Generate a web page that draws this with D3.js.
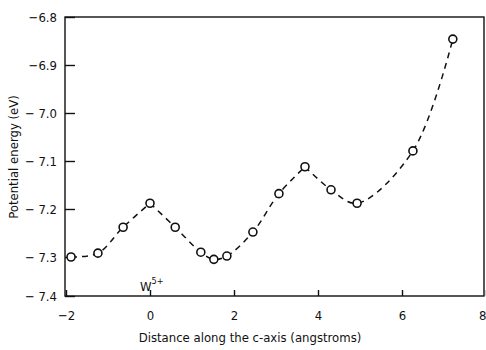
<!DOCTYPE html>
<html><head><meta charset="utf-8">
<script src="https://cdn.jsdelivr.net/npm/d3@7"></script>
<style>body{margin:0;background:#fff}svg{display:block}text{font-family:"DejaVu Sans Condensed","Liberation Sans Narrow",sans-serif;fill:#111}</style>
</head><body><svg id="c" width="486" height="350"></svg>
<script>
const xValues = [-1.88, -1.24, -0.64, 0.0, 0.6, 1.21, 1.52, 1.83, 2.45, 3.07, 3.69, 4.31, 4.93, 6.26, 7.21];
const yValues = [-7.30, -7.292, -7.238, -7.188, -7.238, -7.29, -7.306, -7.298, -7.248, -7.168, -7.112, -7.16, -7.188, -7.079, -6.846];
const xTicks = [-2, 0, 2, 4, 6, 8];
const yTicks = [-6.8, -6.9, -7.0, -7.1, -7.2, -7.3, -7.4];
const yTickLabels = ["\u22126.8", "\u22126.9", "\u2212 7.0", "\u2212 7.1", "\u2212 7.2", "\u2212 7.3", "\u2212 7.4"];
const peakIdx = [3, 10];

const svg = d3.select("#c");
const L = 65, R = 484, T = 17, B = 296;
const x = d3.scaleLinear().domain([-2, 8]).range([66, 486]);
// the printed axis is slightly compressed in its lowest interval
const y = d3.scaleLinear().domain([-7.4, -7.3, -6.8]).range([B, 257, T]);
const pts = xValues.map((v, i) => [v, yValues[i]]);

// frame
svg.append("rect").attr("x", L).attr("y", T).attr("width", R - L).attr("height", B - T)
  .attr("fill", "none").attr("stroke", "#111").attr("stroke-width", 1.4);

// axes
const gx = svg.append("g").attr("transform", `translate(0,${B})`)
  .call(d3.axisBottom(x).tickValues(xTicks).tickSizeInner(-6).tickSizeOuter(0).tickFormat(d => d < 0 ? "\u2212" + Math.abs(d) : d));
gx.select(".domain").remove();
gx.selectAll("line").attr("stroke", "#111").attr("stroke-width", 1.4);
gx.selectAll("text").attr("y", 15).attr("font-size", 13).attr("fill", "#111");
gx.selectAll(".tick").filter(d => d === 8).select("text").attr("text-anchor", "end").attr("x", 0);

const gy = svg.append("g").attr("transform", `translate(${L},0)`)
  .call(d3.axisLeft(y).tickValues(yTicks).tickSizeInner(-10).tickSizeOuter(0).tickFormat((d, i) => yTickLabels[i]));
gy.select(".domain").remove();
gy.selectAll("line").attr("stroke", "#111").attr("stroke-width", 1.4);
gy.selectAll("text").attr("x", -8).attr("font-size", 13).attr("fill", "#111");

// dashed curve in segments split at peaks
const line = d3.line().x(d => x(d[0])).y(d => y(d[1])).curve(d3.curveCatmullRom.alpha(0.5));
const bounds = [0, ...peakIdx, pts.length - 1];
for (let k = 0; k < bounds.length - 1; k++) {
  const seg = pts.slice(bounds[k], bounds[k + 1] + 1);
  svg.append("path").attr("d", line(seg)).attr("fill", "none").attr("stroke", "#111")
    .attr("stroke-width", 1.5).attr("stroke-dasharray", "6,5");
}

// points
svg.selectAll("circle.p").data(pts).join("circle").attr("class", "p")
  .attr("cx", d => x(d[0])).attr("cy", d => y(d[1])).attr("r", 4)
  .attr("fill", "#fff").attr("stroke", "#111").attr("stroke-width", 1.6);

// W5+ label
const w = svg.append("text").attr("x", 140).attr("y", 291).attr("font-size", 13);
w.append("tspan").text("W");
w.append("tspan").attr("dy", -7).attr("font-size", 9).text("5+");

// axis titles
svg.append("text").attr("x", 250).attr("y", 342).attr("text-anchor", "middle").attr("font-size", 13)
  .text("Distance along the c-axis (angstroms)");
svg.append("text").attr("transform", "translate(18,157) rotate(-90)").attr("text-anchor", "middle").attr("font-size", 13)
  .text("Potential energy (eV)");
</script></body></html>
